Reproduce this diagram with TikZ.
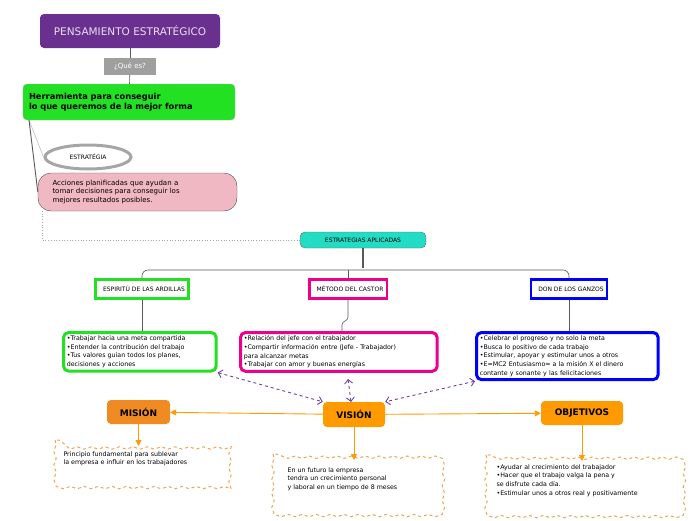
\documentclass[tikz,border=0pt]{standalone}
\usepackage{fontspec}
\setmainfont{DejaVu Sans}
\usetikzlibrary{shapes.geometric,arrows.meta,decorations.pathmorphing}
\definecolor{purp}{HTML}{6A3090}
\definecolor{grn}{HTML}{22E022}
\definecolor{pnk}{HTML}{F0B8C2}
\definecolor{turq}{HTML}{22DCC4}
\definecolor{org}{HTML}{FF9A00}
\definecolor{dorg}{HTML}{F08A22}
\definecolor{vio}{HTML}{7040A0}
\tikzset{
 hdr/.style={draw=#1,line width=2.6pt,fill=white,minimum height=19pt,font=\fontsize{6}{7}\selectfont},
 det/.style={draw=#1,line width=3pt,rounded corners=5pt,fill=white,align=left,anchor=north west,font=\fontsize{6.3}{8.6}\selectfont},
 onode/.style={fill=#1,rounded corners=4pt,font=\bfseries\fontsize{9}{10}\selectfont,text=black},
 wavy/.style={draw=dorg!80,line width=1pt,dashed,decorate,decoration={snake,amplitude=1.2pt,segment length=14pt}},
 conn/.style={draw=gray!70!black,line width=0.6pt},
 oarr/.style={draw=org,line width=0.9pt,-{Triangle[length=6pt,width=6pt]}},
 varr/.style={draw=vio,line width=0.9pt,dashed,{Straight Barb[length=4pt]}-{Straight Barb[length=4pt]}},
}
\begin{document}
\begin{tikzpicture}[x=1pt,y=-1pt]
\useasboundingbox (0,0) rectangle (696,520);
% title
\node[fill=purp,rounded corners=4pt,minimum width=180pt,minimum height=34pt,text=white!85!purp,font=\fontsize{10.5}{12}\selectfont] (t) at (130,31) {PENSAMIENTO ESTRATÉGICO};
\node[fill=gray!75,text=white,minimum width=52pt,minimum height=17pt,font=\fontsize{7}{8}\selectfont] (q) at (130,66.5) {¿Qué es?};
\node[fill=grn,draw=gray!60,rounded corners=4pt,minimum width=212pt,minimum height=36pt,align=left,text width=200pt,font=\bfseries\fontsize{8.3}{10}\selectfont] (h) at (129,102) {Herramienta para conseguir\\lo que queremos de la mejor forma};
\draw[conn] (t) -- (q);
\draw[conn] (q) -- (h);
\node[ellipse,draw=gray!70,line width=3pt,fill=white,minimum width=86pt,minimum height=24pt,font=\fontsize{6}{7}\selectfont] (e) at (88,157) {ESTRATÉGIA};
\node[fill=pnk,draw=black!70,rounded corners=13pt,minimum width=199pt,minimum height=38pt,align=left,text width=170pt,font=\fontsize{7}{8.6}\selectfont] (p) at (137.5,192) {Acciones planificadas que ayudan a\\tomar decisiones para conseguir los\\mejores resultados posibles.};
\coordinate (hb) at (29,120);
\draw[gray!50,line width=0.6pt] (hb) -- (e.west);
\draw[conn,line width=0.9pt] (hb) -- (p.west);
\node[fill=turq,draw=black!60,rounded corners=5pt,minimum width=126pt,minimum height=16pt,font=\fontsize{6}{7}\selectfont] (ea) at (363,240) {ESTRATEGIAS APLICADAS};
\draw[gray!70,dotted,line width=0.7pt] (42,211) |- (ea.west);
% headers
\node[hdr=grn] (a1) at (142,289) {\hspace{4pt}ESPIRITÚ DE LAS ARDILLAS\hspace{4pt}};
\node[hdr=magenta] (a2) at (348,289) {\hspace{4pt}MÉTODO DEL CASTOR\hspace{4pt}};
\node[hdr=blue] (a3) at (569,289) {\hspace{4pt}DON DE LOS GANZOS\hspace{4pt}};
\draw[conn,line width=1.2pt] (ea.south) -- (363,268);
\draw[conn,rounded corners=6pt] (a1.north) -- (142,270) -- (569,270) -- (a3.north);
\draw[conn] (348,270) -- (a2.north);
% details
\node[det=grn,text width=146pt] (d1) at (62,331) {•Trabajar hacia una meta compartida\\•Entender la contribución del trabajo\\•Tus valores guían todos los planes,\\decisiones y acciones};
\node[det=magenta,text width=190pt] (d2) at (239,331) {•Relación del jefe con el trabajador\\•Compartir información entre (Jefe - Trabajador)\\para alcanzar metas\\•Trabajar con amor y buenas energías};
\node[det=blue,text width=175pt] (d3) at (475,331) {•Celebrar el progreso y no solo la meta\\•Busca lo positivo de cada trabajo\\•Estimular, apoyar y estimular unos a otros\\•E=MC2 Entusiasmo= a la misión X el dinero\\contante y sonante y las felicitaciones};
\draw[conn] (a1) -- (d1.north -| a1);
\draw[conn,rounded corners=3pt] (a2.south) -- (348,320) -- (342,322) -- (342,331);
\draw[conn] (a3) -- (d3.north -| a3);
% orange nodes
\node[onode=dorg,minimum width=63pt,minimum height=24pt] (m) at (138.5,412) {MISIÓN};
\node[onode=org,minimum width=62pt,minimum height=25pt] (v) at (354,414.5) {VISIÓN};
\node[onode=org,minimum width=82pt,minimum height=24pt] (o) at (582,413) {OBJETIVOS};
\draw[oarr] (v) -- (m);
\draw[oarr] (v) -- (o);
\draw[varr] (d1.south east) -- (v.north west);
\draw[varr] (348,379) -- (351,402);
\draw[varr] (d3.south west) -- (v.north east);
% wavy boxes
\draw[wavy] (55,440) rectangle (228,483);
\node[anchor=north west,align=left,font=\fontsize{6.3}{8.6}\selectfont] (mt) at (60,448) {Principio fundamental para sublevar\\la empresa e influir en los trabajadores};
\draw[wavy] (273,454) rectangle (440,510);
\node[anchor=north west,align=left,font=\fontsize{6.3}{8.6}\selectfont] (vt) at (284,464) {En un futuro la empresa\\tendra un crecimiento personal\\y laboral en un tiempo de 8 meses};
\draw[wavy] (486,455) rectangle (680,514);
\node[anchor=north west,align=left,font=\fontsize{6.3}{8.6}\selectfont] (ot) at (493,461) {•Ayudar al crecimiento del trabajador\\•Hacer que el trabajo valga la pena y\\se disfrute cada día.\\•Estimular unos a otros real y positivamente};
\coordinate (mw) at (138.5,446);
\coordinate (vw) at (354,460);
\coordinate (ow) at (582,461);
\draw[oarr] (m) -- (mw);
\draw[oarr] (v) -- (vw);
\draw[oarr] (o) -- (ow);
\end{tikzpicture}
\end{document}
